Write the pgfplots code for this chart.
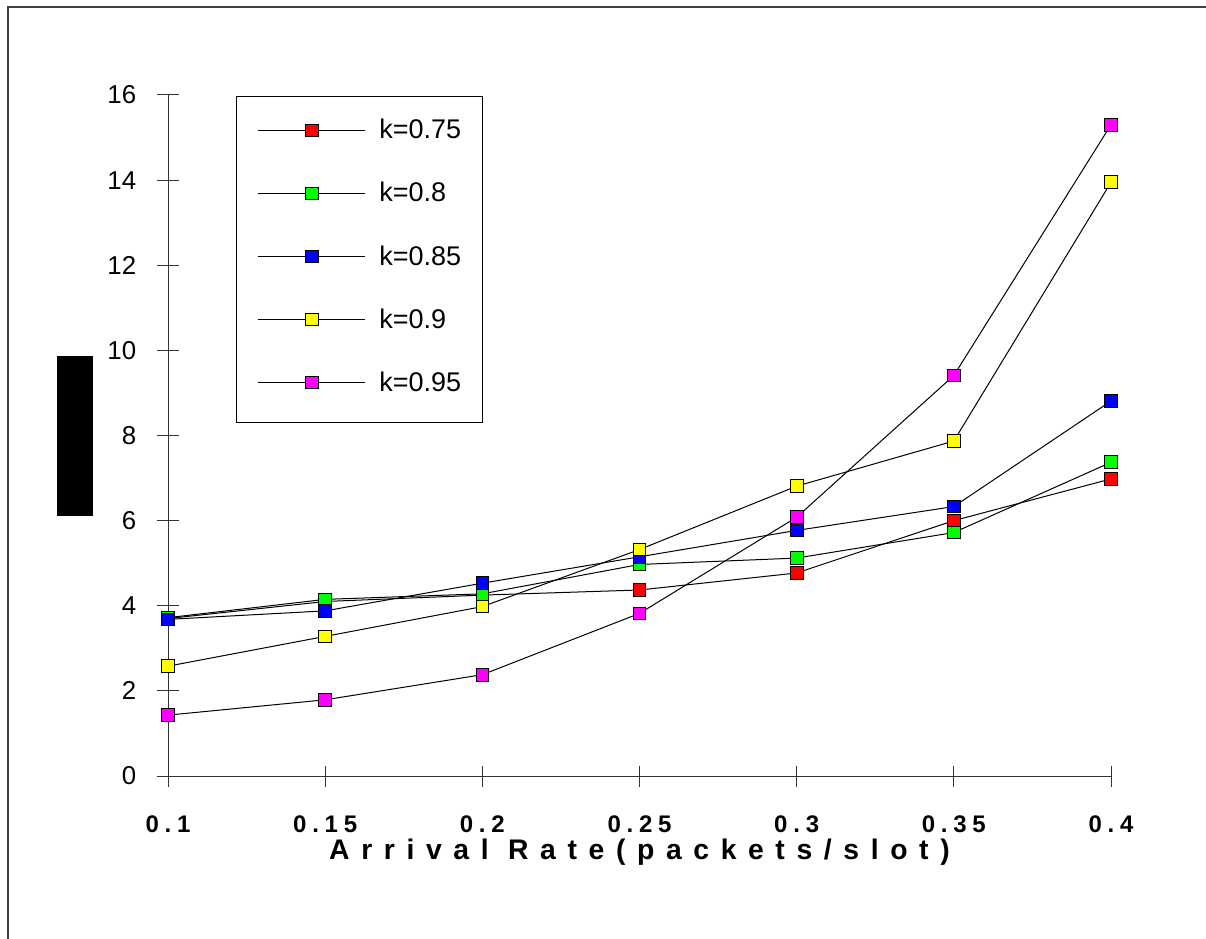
\documentclass[border=0pt]{standalone}
\usepackage{fontspec}
\setmainfont{Liberation Sans}
\newfontfamily\tickfont[LetterSpace=24]{Liberation Sans}
\newfontfamily\labelfont[LetterSpace=41]{Liberation Sans}
\usepackage{pgfplots}
\usepackage{pgfplotstable}
\pgfplotsset{compat=1.18}

\definecolor{kred}{RGB}{255,0,0}
\definecolor{kgreen}{RGB}{0,255,0}
\definecolor{kblue}{RGB}{0,0,255}
\definecolor{kyellow}{RGB}{255,255,0}
\definecolor{kmagenta}{RGB}{255,0,255}

% mean delay against arrival rate, one table per k
\pgfplotstableread{
x    y
0.10 3.70
0.15 4.10
0.20 4.25
0.25 4.37
0.30 4.77
0.35 6.00
0.40 6.98
}\kA
\pgfplotstableread{
x    y
0.10 3.72
0.15 4.15
0.20 4.28
0.25 4.97
0.30 5.12
0.35 5.72
0.40 7.37
}\kB
\pgfplotstableread{
x    y
0.10 3.68
0.15 3.88
0.20 4.53
0.25 5.15
0.30 5.77
0.35 6.33
0.40 8.81
}\kC
\pgfplotstableread{
x    y
0.10 2.58
0.15 3.28
0.20 3.98
0.25 5.32
0.30 6.81
0.35 7.87
0.40 13.95
}\kD
\pgfplotstableread{
x    y
0.10 1.43
0.15 1.79
0.20 2.38
0.25 3.82
0.30 6.08
0.35 9.41
0.40 15.30
}\kE

\pgfplotsset{
  kseries/.style={black, line width=0.6pt, mark=square*, mark size=3.8pt,
    mark options={draw=black, line width=0.6pt, fill=#1}},
}

\begin{document}
\begin{tikzpicture}[x=1pt,y=1pt]
\path[use as bounding box] (0,0) rectangle (723.6,562.8);
\draw[black!75, line width=0.7pt] (4.8,-2) -- (4.8,558.6) -- (726,558.6);
\begin{axis}[
  at={(100.8pt,97.2pt)}, anchor=south west,
  scale only axis, width=565.8pt, height=408.6pt,
  xmin=0.1, xmax=0.4, ymin=0, ymax=16,
  axis lines*=left,
  axis line style={black!80, line width=0.6pt},
  every tick/.style={black!80, line width=0.6pt},
  tick align=center, major tick length=12.6pt,
  xtick={0.1,0.15,0.2,0.25,0.3,0.35,0.4},
  xticklabels={0.1,0.15,0.2,0.25,0.3,0.35,0.4},
  xticklabel style={font=\tickfont\bfseries\fontsize{14.4}{17}\selectfont,
    anchor=base, inner sep=0pt, yshift=-27.5pt},
  ytick={0,2,...,16},
  /pgf/number format/assume math mode=true,
  yticklabel style={font=\fontsize{15.5}{18}\selectfont,
    anchor=east, inner sep=0pt, xshift=-12.6pt},
  xlabel={Arrival Rate(packets/slot)},
  every axis x label/.style={at={(rel axis cs:0.5,0)}, anchor=base,
    yshift=-49.8pt, inner sep=0pt,
    font=\labelfont\bfseries\fontsize{17}{20}\selectfont},
  ylabel={\mbox{}},
  every axis y label/.style={at={(rel axis cs:-0.0986,0.4993)}, anchor=center,
    fill=black, minimum width=21.6pt, minimum height=96pt, inner sep=0pt},
  legend image code/.code={
    \draw[mark repeat=2, mark phase=2, #1]
      plot coordinates {(0pt,0pt) (32.1pt,0pt) (64.2pt,0pt)};},
  legend style={at={(rel axis cs:0.0721,0.9985)}, anchor=north west,
    draw=none, fill=none,
    inner xsep=13pt, inner ysep=13.8pt, row sep=24.6pt,
    font=\fontsize{16.2}{19}\selectfont,
    nodes={inner sep=0pt},
    /tikz/every odd column/.append style={column sep=8pt}},
  legend cell align=left,
  clip=false,
]
% frame of the legend box
\draw[black, line width=0.6pt, fill=white]
  (rel axis cs:0.0726,0.9978) rectangle (rel axis cs:0.334,0.5184);
\addplot[kseries=kred]     table {\kA}; \addlegendentry{k=0.75}
\addplot[kseries=kgreen]   table {\kB}; \addlegendentry{k=0.8}
\addplot[kseries=kblue]    table {\kC}; \addlegendentry{k=0.85}
\addplot[kseries=kyellow]  table {\kD}; \addlegendentry{k=0.9}
\addplot[kseries=kmagenta] table {\kE}; \addlegendentry{k=0.95}
\end{axis}
\end{tikzpicture}
\end{document}
